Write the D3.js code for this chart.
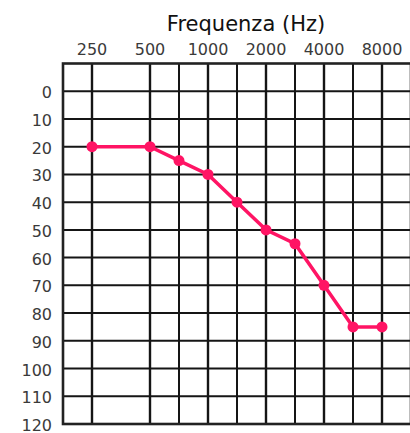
<!DOCTYPE html>
<html>
<head>
<meta charset="utf-8">
<script src="https://cdn.jsdelivr.net/npm/d3@7"></script>
<style>
  body { margin: 0; background: #fff; }
  svg { display: block; }
  .lbl { font-family: "DejaVu Sans", sans-serif; fill: #3a3a3a; }
</style>
</head>
<body>
<svg id="chart" width="410" height="433"></svg>
<script>
// audiogram values
var freqs = [250, 500, 750, 1000, 1500, 2000, 3000, 4000, 6000, 8000];
var levels = [20, 20, 25, 30, 40, 50, 55, 70, 85, 85];
var freqLabels = [250, 500, 1000, 2000, 4000, 8000];
var dbTicks = [0, 10, 20, 30, 40, 50, 60, 70, 80, 90, 100, 110, 120];
var title = 'Frequenza (Hz)';

var svg = d3.select('#chart');

// half-octave position relative to 250 Hz
function oct(f) { return Math.round(2 * Math.log2(f / 250)) / 2; }

var x = d3.scaleLinear().domain([-0.5, 5.5]).range([63, 411]);
var y = d3.scaleLinear().domain([-10, 120]).range([63.5, 424]);

var g = svg.append('g');

// vertical grid lines
g.selectAll('line.v')
  .data(freqs)
  .enter().append('line')
  .attr('class', 'v')
  .attr('x1', function(d) { return x(oct(d)); })
  .attr('x2', function(d) { return x(oct(d)); })
  .attr('y1', y(-10)).attr('y2', y(120))
  .attr('stroke', '#151515')
  .attr('stroke-width', function(d) { return oct(d) % 1 === 0 ? 2.4 : 2; });

// horizontal grid lines
g.selectAll('line.h')
  .data(dbTicks.slice(0, -1))
  .enter().append('line')
  .attr('class', 'h')
  .attr('x1', x(-0.5)).attr('x2', x(5.5))
  .attr('y1', function(d) { return y(d); })
  .attr('y2', function(d) { return y(d); })
  .attr('stroke', '#151515')
  .attr('stroke-width', 2);

// frame
g.append('rect')
  .attr('x', x(-0.5)).attr('y', y(-10))
  .attr('width', x(5.5) - x(-0.5)).attr('height', y(120) - y(-10))
  .attr('fill', 'none')
  .attr('stroke', '#222')
  .attr('stroke-width', 2.6);

// y labels
svg.selectAll('text.y')
  .data(dbTicks)
  .enter().append('text')
  .attr('class', 'lbl y')
  .attr('x', 52)
  .attr('y', function(d) { return y(d) + 7; })
  .attr('text-anchor', 'end')
  .style('font-size', '16px')
  .text(function(d) { return d; });

// frequency labels
svg.selectAll('text.f')
  .data(freqLabels)
  .enter().append('text')
  .attr('class', 'lbl f')
  .attr('x', function(d) { return x(oct(d)); })
  .attr('y', 55)
  .attr('text-anchor', 'middle')
  .style('font-size', '16px')
  .text(function(d) { return d; });

svg.append('text')
  .attr('class', 'lbl')
  .attr('x', 246).attr('y', 31)
  .attr('text-anchor', 'middle')
  .style('font-size', '21px')
  .style('fill', '#111')
  .text(title);

// threshold curve
var line = d3.line()
  .x(function(d, i) { return x(oct(freqs[i])); })
  .y(function(d) { return y(d); });

svg.append('path')
  .datum(levels)
  .attr('d', line)
  .attr('fill', 'none')
  .attr('stroke', '#ff1464')
  .attr('stroke-width', 3.5);

svg.selectAll('circle')
  .data(levels)
  .enter().append('circle')
  .attr('cx', function(d, i) { return x(oct(freqs[i])); })
  .attr('cy', function(d) { return y(d); })
  .attr('r', 5.5)
  .attr('fill', '#ff1464');
</script>
</body>
</html>
